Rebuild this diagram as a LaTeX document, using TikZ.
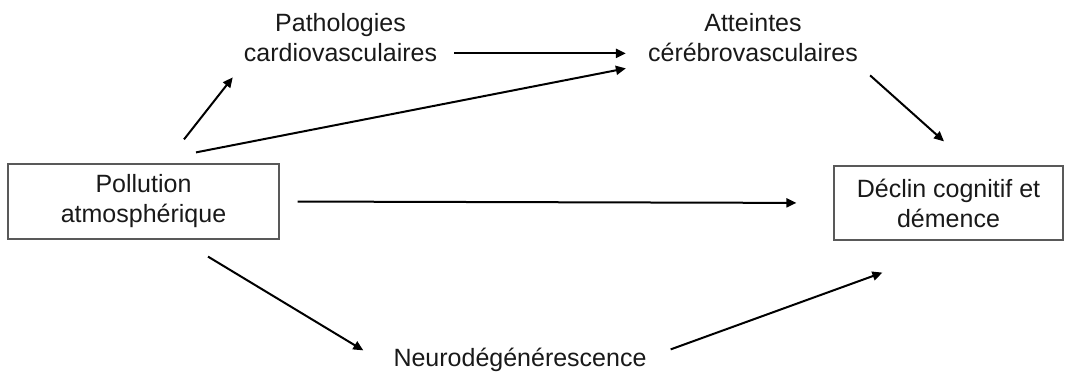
\documentclass[tikz,border=0pt]{standalone}
\usepackage{fontspec}
\setmainfont{Liberation Sans}
\usetikzlibrary{
    arrows.meta,
    calc
}
\tikzset{
    % Colors
    frame color/.style={black!65},
    label color/.style={black!90},
    %
    % Nodes
    label node/.style={align=center,inner sep=0pt,text=black!90},
    box node/.style={draw=black!65,line width=1.2pt,text=black!90,align=center,inner sep=0pt},
    %
    % Arrows
    arrow tip/.tip={Triangle[length=10pt,width=9pt]},
    arr/.style={->,>={arrow tip},line width=2pt},
}
\tikzstyle{every node}=[font=\fontsize{25}{30}\selectfont]

\begin{document}
\begin{tikzpicture}[x=1pt,y=1pt]
        \useasboundingbox (0,0) rectangle (1065,374);
        \node[box node,minimum width=271pt,minimum height=75pt] (poll) at (143.5,172.5) {Pollution\\atmosphérique};
        \node[box node,minimum width=229pt,minimum height=74pt] (declin) at (948.5,171) {Déclin cognitif et\\démence};
        \node[label node] (patho) at (340.5,336) {Pathologies\\cardiovasculaires};
        \node[label node] (cerebro) at (753,336) {Atteintes\\cérébrovasculaires};
        \node[label node,anchor=base] (neuro) at (520,7) {Neurodégénérescence};
        % upper paths
        \draw[arr] ($(poll.north)+(40.5,24)$) -- ($(patho.south west)+(-11,-15)$);
        \draw[arr] ($(patho.south east)+(17,9)$) -- ($(cerebro.south west)+(-22,9)$);
        \draw[arr] ($(poll.north)+(52.5,11)$) -- ($(cerebro.south west)+(-22,-6)$);
        \draw[arr] ($(cerebro.south east)+(12,-13)$) -- ($(declin.north)+(-4.5,24)$);
        % direct path
        \draw[arr,shorten <=18pt,shorten >=37pt] (poll.east) -- (declin.west);
        % lower paths
        \draw[arr] ($(poll.south)+(64.5,-17)$) -- ($(neuro.west)+(-30,10)$);
        \draw[arr] ($(neuro.east)+(24,11)$) -- ($(declin.south west)+(49,-32)$);
    \end{tikzpicture}
\end{document}
